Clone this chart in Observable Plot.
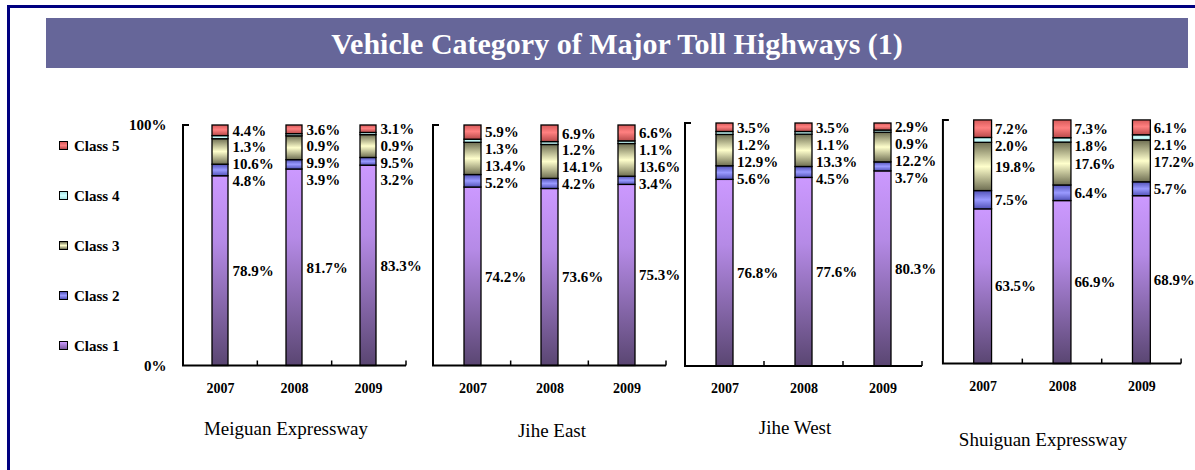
<!DOCTYPE html>
<html><head><meta charset="utf-8">
<script src="https://cdn.jsdelivr.net/npm/d3@7"></script>
<script src="https://cdn.jsdelivr.net/npm/@observablehq/plot@0.6"></script>
<style>
body{margin:0;background:#fff;font-family:"Liberation Serif","Times New Roman",serif;}
#page{position:relative;width:1195px;height:470px;overflow:hidden;background:#fff;}
#border{position:absolute;left:7px;top:5px;width:1300px;height:600px;border-left:3px solid #000080;border-top:3px solid #000080;}
#banner{position:absolute;left:46px;top:18px;width:1142px;height:50px;background:#666699;color:#fff;font-weight:bold;font-size:30px;line-height:52px;text-align:center;}
.panel{position:absolute;}
.ptitle{position:absolute;font-size:19px;transform:translate(-50%,-50%);white-space:nowrap;color:#000;}
.leg{position:absolute;left:59px;font-weight:bold;font-size:15px;line-height:16px;transform:translateY(-50%);white-space:nowrap;}
.leg span.sw{display:inline-block;width:7px;height:7px;border:1px solid #000;margin-right:6px;vertical-align:1px;}
#defs{position:absolute;width:0;height:0;}
</style>
</head><body>
<div id="page">
  <div id="border"></div>
  <div id="banner">Vehicle Category of Major Toll Highways (1)</div>
</div>
<svg id="defs" width="0" height="0">
  <defs>
    <linearGradient id="gc1" x1="0" y1="0" x2="0" y2="1">
      <stop offset="0" stop-color="#cc99ff"/><stop offset="0.35" stop-color="#b58ae6"/><stop offset="1" stop-color="#5a4672"/>
    </linearGradient>
    <linearGradient id="gc2" x1="0" y1="0" x2="0" y2="1">
      <stop offset="0" stop-color="#5252b8"/><stop offset="0.5" stop-color="#9a9aff"/><stop offset="1" stop-color="#5252b8"/>
    </linearGradient>
    <linearGradient id="gc3" x1="0" y1="0" x2="0" y2="1">
      <stop offset="0" stop-color="#6e6e52"/><stop offset="0.5" stop-color="#ffffcc"/><stop offset="1" stop-color="#6e6e52"/>
    </linearGradient>
    <linearGradient id="gc4" x1="0" y1="0" x2="0" y2="1">
      <stop offset="0" stop-color="#a8e0e0"/><stop offset="0.5" stop-color="#ccffff"/><stop offset="1" stop-color="#a8e0e0"/>
    </linearGradient>
    <linearGradient id="gc5" x1="0" y1="0" x2="0" y2="1">
      <stop offset="0" stop-color="#d85a5a"/><stop offset="0.45" stop-color="#ff8080"/><stop offset="1" stop-color="#b84a4a"/>
    </linearGradient>
  </defs>
</svg>
<script>
// ---- data ----
const highways = ["Meiguan Expressway", "Jihe East", "Jihe West", "Shuiguan Expressway"];
const years = ["2007", "2008", "2009"];
const classes = ["Class 1", "Class 2", "Class 3", "Class 4", "Class 5"];
// shares (%) per year, in class order 1..5
const meiguan  = [[78.9, 4.8, 10.6, 1.3, 4.4], [81.7, 3.9, 9.9, 0.9, 3.6], [83.3, 3.2, 9.5, 0.9, 3.1]];
const jiheEast = [[74.2, 5.2, 13.4, 1.3, 5.9], [73.6, 4.2, 14.1, 1.2, 6.9], [75.3, 3.4, 13.6, 1.1, 6.6]];
const jiheWest = [[76.8, 5.6, 12.9, 1.2, 3.5], [77.6, 4.5, 13.3, 1.1, 3.5], [80.3, 3.7, 12.2, 0.9, 2.9]];
const shuiguan = [[63.5, 7.5, 19.8, 2.0, 7.2], [66.9, 6.4, 17.6, 1.8, 7.3], [68.9, 5.7, 17.2, 2.1, 6.1]];
const yTicks = [0, 100];

// ---- styling / layout ----
const seriesByHighway = [meiguan, jiheEast, jiheWest, shuiguan];
const gradUrls = ["url(#gc1)", "url(#gc2)", "url(#gc3)", "url(#gc4)", "url(#gc5)"];
const legendCss = [
  "linear-gradient(#cc99ff,#7a5a9e)",
  "linear-gradient(#5252b8,#9a9aff,#5252b8)",
  "linear-gradient(#6e6e52,#ffffcc,#6e6e52)",
  "linear-gradient(#a8e0e0,#ccffff,#a8e0e0)",
  "linear-gradient(#d85a5a,#ff8080,#b84a4a)"
];
const boxes = [
  {L: 183, T: 125, R: 406, B: 365.5, mL: 60, mR: 50, tx: 286, ty: 429},
  {L: 433, T: 125, R: 666, B: 365.5, mL: 10, mR: 50, tx: 552, ty: 431},
  {L: 685, T: 122.5, R: 922, B: 365.5, mL: 10, mR: 50, tx: 795, ty: 428},
  {L: 943, T: 120, R: 1183, B: 365.5, mL: 10, mR: 14, tx: 1043, ty: 440}
];
const MT = 10, MB = 40, LABEL_GAP = 7;

const page = document.getElementById("page");

function axisLines(index, scales, values, dim) {
  const g = d3.create("svg:g").attr("stroke", "#000").attr("fill", "none");
  const x0 = dim.marginLeft, x1 = dim.width - dim.marginRight;
  const yT = dim.marginTop, yB = dim.height - dim.marginBottom;
  g.append("path").attr("stroke-width", 2)
    .attr("d", `M${x0 + 6},${yT}H${x0}V${yB}H${x1}`);
  const step = (x1 - x0) / years.length;
  for (let k = 1; k <= years.length; k++) {
    g.append("line").attr("stroke-width", 1.5)
      .attr("x1", x0 + k * step).attr("x2", x0 + k * step)
      .attr("y1", yB).attr("y2", yB - 5);
  }
  return g.node();
}

seriesByHighway.forEach((series, hi) => {
  const rows = [];
  const labels = [];
  series.forEach((vals, yi) => {
    vals.forEach((v, ci) => rows.push({year: years[yi], cls: classes[ci], value: v}));
    // label placement: segment centers, pushed down so labels don't overlap
    let cum = 0; const centers = vals.map(v => { const c = cum + v / 2; cum += v; return c; });
    let prev = Infinity;
    for (let ci = vals.length - 1; ci >= 0; ci--) {
      const ly = Math.min(centers[ci], prev - LABEL_GAP);
      prev = ly;
      labels.push({year: years[yi], ly, txt: vals[ci].toFixed(1) + "%"});
    }
  });
  const b = boxes[hi];
  const width = b.mL + (b.R - b.L) + b.mR;
  const height = MT + (b.B - b.T) + MB;
  const marks = [
    Plot.rectY(rows, {x: "year", y: "value", fill: "cls", stroke: "#000", strokeWidth: 1.3}),
    axisLines,
    Plot.axisX({tickSize: 0, tickPadding: 17, fontSize: 14, fontWeight: "bold", label: null}),
    Plot.text(labels, {x: "year", y: "ly", text: "txt", dx: 12, textAnchor: "start",
      fontSize: 15, fontWeight: "bold", fill: "#000"})
  ];
  if (hi === 0) {
    marks.push(Plot.axisY({ticks: yTicks, tickFormat: d => d + "%", tickSize: 0, tickPadding: 17,
      fontSize: 15, fontWeight: "bold", label: null}));
  }
  const chart = Plot.plot({
    width, height,
    marginLeft: b.mL, marginRight: b.mR, marginTop: MT, marginBottom: MB,
    style: {background: "transparent", overflow: "visible", fontFamily: "'Liberation Serif', 'Times New Roman', serif", color: "#000"},
    x: {domain: years, paddingInner: 0.78, paddingOuter: 0.39, label: null},
    y: {domain: [0, 100], label: null, ...(hi === 0 ? {} : {axis: null})},
    color: {domain: classes, range: gradUrls},
    marks
  });
  const wrap = document.createElement("div");
  wrap.className = "panel";
  wrap.style.left = (b.L - b.mL) + "px";
  wrap.style.top = (b.T - MT) + "px";
  wrap.appendChild(chart);
  page.appendChild(wrap);

  const t = document.createElement("div");
  t.className = "ptitle";
  t.style.left = b.tx + "px";
  t.style.top = b.ty + "px";
  t.textContent = highways[hi];
  page.appendChild(t);
});

// legend (Class 5 on top)
const legendTop = 146, legendStep = 50;
classes.slice().reverse().forEach((c, i) => {
  const ci = classes.length - 1 - i;
  const d = document.createElement("div");
  d.className = "leg";
  d.style.top = (legendTop + i * legendStep) + "px";
  d.innerHTML = `<span class="sw" style="background:${legendCss[ci]}"></span>${c}`;
  page.appendChild(d);
});
</script>
</body></html>
